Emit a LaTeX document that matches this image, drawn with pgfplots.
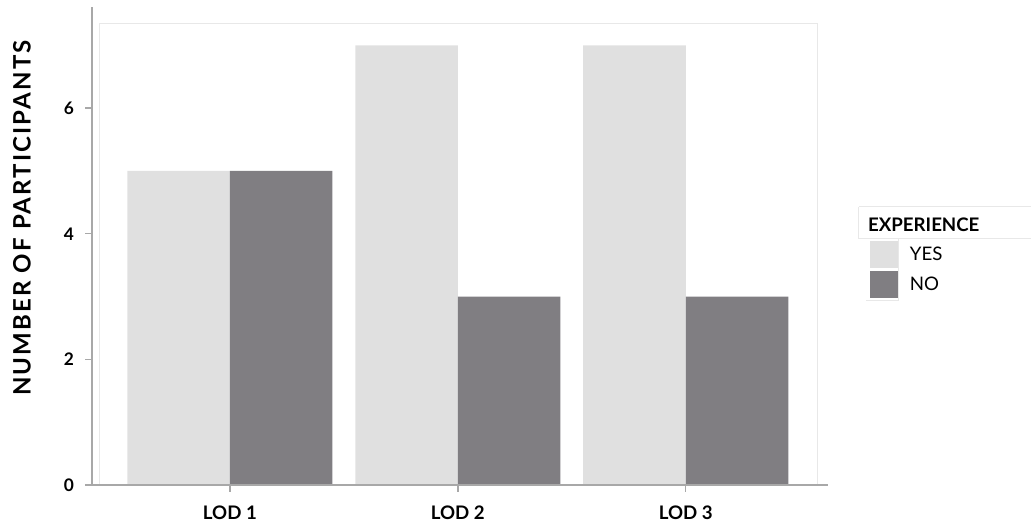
\documentclass[border=0pt]{standalone}
\usepackage{pgfplots}
\pgfplotsset{compat=1.18}
\usepackage{fontspec}
\setmainfont{Lato}
\definecolor{lightbar}{RGB}{224,224,224}
\definecolor{darkbar}{RGB}{128,126,130}
\definecolor{axisgray}{RGB}{168,168,168}
\definecolor{faint}{RGB}{232,232,232}
\begin{document}
\begin{tikzpicture}
\useasboundingbox (-69pt,-32.25pt) rectangle (705pt,363.75pt);
\begin{axis}[
  scale only axis, width=552pt, height=358.5pt,
  xmin=0.395, xmax=3.624, ymin=0, ymax=7.61,
  axis x line*=bottom, axis y line*=left,
  axis line style={axisgray, line width=1.5pt, -},
  axis on top=true,
  clip=false,
  ybar=0pt,
  ytick={0,2,4,6}, xtick={1,2,3},
  xticklabels={LOD 1, LOD 2, LOD 3},
  tick align=outside,
  major tick length=5pt,
  tick style={axisgray, line width=1pt},
  /pgf/number format/assume math mode=true,
  yticklabel style={font=\fontsize{13}{15}\selectfont\bfseries, xshift=-5pt},
  xticklabel style={font=\fontsize{14}{16}\selectfont\bfseries, yshift=-7pt},
  legend style={at={(1.057,0.5105)}, anchor=north west, draw=none, fill=none,
    inner sep=0pt, outer sep=0pt, row sep=2.5pt, column sep=9pt,
    font=\fontsize{14}{16}\selectfont, nodes={inner sep=0pt, anchor=west}},
  legend cell align=left,
  legend image code/.code={\fill[#1] (0pt,-10pt) rectangle (21pt,10pt);},
]
\draw[faint, line width=0.75pt] (axis cs:0.43,0) -- (axis cs:0.43,7.34) -- (axis cs:3.58,7.34) -- (axis cs:3.58,0);
\addplot[fill=lightbar, draw=none, bar width=0.45, bar shift=-0.225] coordinates {(1,5) (2,7) (3,7)};
\addlegendentry{YES}
\addplot[fill=darkbar, draw=none, bar width=0.45, bar shift=0.225] coordinates {(1,5) (2,3) (3,3)};
\addlegendentry{NO}
\draw[axisgray, line width=1.5pt] (axis cs:0.364,0) -- (axis cs:0.395,0);
\node[rotate=90, inner sep=0pt, font=\fontsize{18}{20}\selectfont\bfseries] at (axis cs:0.088,4.25) {\addfontfeature{LetterSpace=9}NUMBER OF PARTICIPANTS};
\node[anchor=base west, inner sep=0pt, font=\fontsize{14}{16}\selectfont\bfseries] at (axis cs:3.799,4.03) {EXPERIENCE};
\draw[faint, line width=0.6pt] (axis cs:3.759,4.43) -- (axis cs:4.513,4.43);
\draw[faint, line width=0.6pt] (axis cs:3.759,4.43) -- (axis cs:3.759,3.92) -- (axis cs:4.513,3.92);
\draw[faint, line width=0.6pt] (axis cs:3.934,3.92) -- (axis cs:3.934,2.94) -- (axis cs:3.79,2.94);
\end{axis}
\end{tikzpicture}
\end{document}
